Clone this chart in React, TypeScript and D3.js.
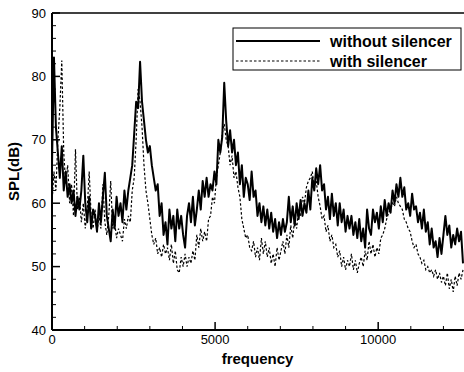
import React from 'react'
import * as d3 from 'd3'

// spectrum bins are 60 Hz apart, starting at 0 Hz
const BIN_HZ = 60

// SPL (dB) for each bin
const withoutSilencer = [
  66, 83, 72, 68, 64, 69, 62, 65, 61, 63, 60, 62, 58, 61, 59, 62, 67.5, 60, 57, 61,
  56, 59, 58, 55.5, 60, 57, 61, 64.8, 58, 56, 54, 59, 56, 61, 58, 60, 57, 62, 59, 62,
  64, 66, 71, 76, 75, 82.3, 76, 73, 70, 68, 69, 66, 64, 62, 63, 58, 60, 55, 57, 53.5,
  59, 56, 58, 54, 59, 56, 58, 55, 53, 58, 60, 57, 61, 56.5, 59, 62, 59, 63.5, 61, 64,
  61, 63, 62, 65, 63, 70, 68, 70.5, 79, 73, 69, 71.5, 68, 70, 66, 68, 63, 66, 61, 64,
  63, 60.5, 65, 61, 62, 58, 60, 57, 59.5, 56.5, 59, 56, 58.5, 55.5, 57.5, 54.5, 57, 55, 57.5, 55.5,
  57, 61, 57, 59.5, 56.5, 60, 57.5, 60.5, 58, 60, 58.5, 62, 59, 64, 62, 65.5, 63, 66, 62, 63,
  59, 61, 57.5, 61.5, 58, 60, 56.5, 60, 57, 59, 55.5, 58, 56, 58, 55, 57, 54.5, 57.5, 54, 56,
  53, 59, 56, 55, 59, 57, 58.5, 56, 59.5, 57, 60.5, 58, 60, 58.5, 62, 60, 63, 61, 64, 61,
  62.5, 59, 60, 58, 61.5, 59, 59.5, 57, 58.5, 56, 59, 55.5, 57, 53.5, 56, 53, 54, 51.5, 54.5, 52,
  55, 58, 55, 56.5, 53, 55, 53.5, 56, 54, 55.5, 50.5,
]

const withSilencer = [
  60, 65, 62, 70, 75, 82.5, 68, 63, 66, 60, 63, 58, 68.5, 59, 61, 57, 60, 56, 59, 65,
  58, 56, 59, 55.5, 58, 56, 63, 57, 55, 58, 63.5, 56, 57, 54.5, 56, 55, 54, 57.5, 56, 58,
  57, 62, 64, 70, 78, 76, 72, 66, 62, 60, 57.5, 55, 53.5, 54.5, 52, 53, 51.5, 53.5, 52, 53,
  51, 53.5, 50.5, 52.5, 49.5, 49, 51.5, 50, 52, 50, 51.5, 50.5, 52.5, 51, 55, 53, 56, 54, 55.5, 54,
  57.5, 58, 61, 60, 64, 66, 68, 71, 72.5, 70, 69, 66, 67.5, 64, 65, 62.5, 61, 57.5, 56, 54.5,
  55, 53, 52.5, 54, 51.5, 53, 51, 54.5, 52, 54, 51.5, 53, 50.5, 52, 50, 53, 51, 52.5, 54, 52,
  55, 53, 56.5, 54.5, 57.5, 56, 59, 58, 61, 60, 62.5, 63.5, 64, 65, 62.5, 63.5, 61, 59.5, 57.5, 58,
  55.5, 56.5, 54, 55, 53, 53.5, 51.5, 52.5, 50, 51.5, 49.5, 51, 50, 52, 49.5, 51, 49, 50.5, 51.5, 50,
  52.5, 51, 54, 52, 53.5, 51.5, 53, 52, 54.5, 55, 56, 57.5, 58.5, 59, 60, 59.5, 61, 60, 59.5, 59,
  57.5, 57, 56, 55.5, 54, 53, 53.5, 52, 51.5, 50.5, 51, 49.5, 50, 49, 49.5, 48.5, 49.5, 48, 49, 47.5,
  48.5, 47, 49, 46.5, 48, 46, 48.5, 47, 49, 48, 49.5,
]

const yTicks = [40, 50, 60, 70, 80, 90]
const xTicks = [0, 5000, 10000]
const legendLabels = ['without silencer', 'with silencer']

export default function App() {
  const W = 464, H = 372
  const m = { left: 52, right: 463, top: 13, bottom: 330 }
  const x = d3.scaleLinear().domain([0, 12600]).range([m.left, m.right])
  const y = d3.scaleLinear().domain([40, 90]).range([m.bottom, m.top])
  const line = d3.line<number>().x((_, i) => x(i * BIN_HZ)).y(d => y(d))

  const minorX = d3.range(1000, 12600, 1000).filter(v => v % 5000 !== 0)
  const minorY = d3.range(42, 90, 2).filter(v => v % 10 !== 0)
  const font = 'Liberation Sans, Arial, sans-serif'

  return (
    <svg width={W} height={H} style={{ position: 'absolute', left: 0, top: 0, background: '#fff' }}>
      <clipPath id="plot">
        <rect x={m.left} y={m.top} width={m.right - m.left + 2} height={m.bottom - m.top} />
      </clipPath>
      <g clipPath="url(#plot)" fill="none" stroke="#000">
        <path d={line(withSilencer) || ''} strokeWidth={1.2} strokeDasharray="2.5,2" />
        <path d={line(withoutSilencer) || ''} strokeWidth={2} strokeLinejoin="round" />
      </g>

      {/* frame */}
      <g stroke="#000">
        <line x1={m.left} x2={W} y1={m.top} y2={m.top} strokeWidth={1.5} />
        <line x1={m.left} x2={m.left} y1={m.top} y2={m.bottom} strokeWidth={2} />
        <line x1={m.left} x2={W} y1={m.bottom} y2={m.bottom} strokeWidth={2} />
        {xTicks.map(t => <line key={'xt' + t} x1={x(t)} x2={x(t)} y1={m.bottom} y2={m.bottom - 8} strokeWidth={1.5} />)}
        {minorX.map(t => <line key={'xm' + t} x1={x(t)} x2={x(t)} y1={m.bottom} y2={m.bottom - 4} strokeWidth={1} />)}
        {yTicks.map(t => <line key={'yt' + t} x1={m.left} x2={m.left + 8} y1={y(t)} y2={y(t)} strokeWidth={1.5} />)}
        {minorY.map(t => <line key={'ym' + t} x1={m.left} x2={m.left + 4} y1={y(t)} y2={y(t)} strokeWidth={1} />)}
      </g>

      <g fontFamily={font} fontSize={13} fill="#000">
        {yTicks.map(t => (
          <text key={'yl' + t} x={m.left - 6} y={y(t)} dy="0.35em" textAnchor="end">{t}</text>
        ))}
        {xTicks.map(t => (
          <text key={'xl' + t} x={x(t)} y={m.bottom + 14} textAnchor="middle">{t}</text>
        ))}
      </g>

      <text x={(m.left + m.right) / 2} y={364} textAnchor="middle" fontFamily={font} fontWeight="bold" fontSize={15}>frequency</text>
      <text transform={`translate(19,${(m.top + m.bottom) / 2}) rotate(-90)`} textAnchor="middle" fontFamily={font} fontWeight="bold" fontSize={15}>SPL(dB)</text>

      {/* legend */}
      <g fontFamily={font} fontWeight="bold" fontSize={16}>
        <rect x={233} y={28} width={228} height={42} fill="#fff" stroke="#000" strokeWidth={1} />
        {legendLabels.map((lab, i) => (
          <g key={lab} transform={`translate(0,${41 + i * 20})`}>
            <line x1={236} x2={320} y1={0} y2={0} stroke="#000" strokeWidth={i === 0 ? 2 : 1.2} strokeDasharray={i === 0 ? undefined : '2.5,2'} />
            <text x={330} y={0} dy="0.35em">{lab}</text>
          </g>
        ))}
      </g>
    </svg>
  )
}
